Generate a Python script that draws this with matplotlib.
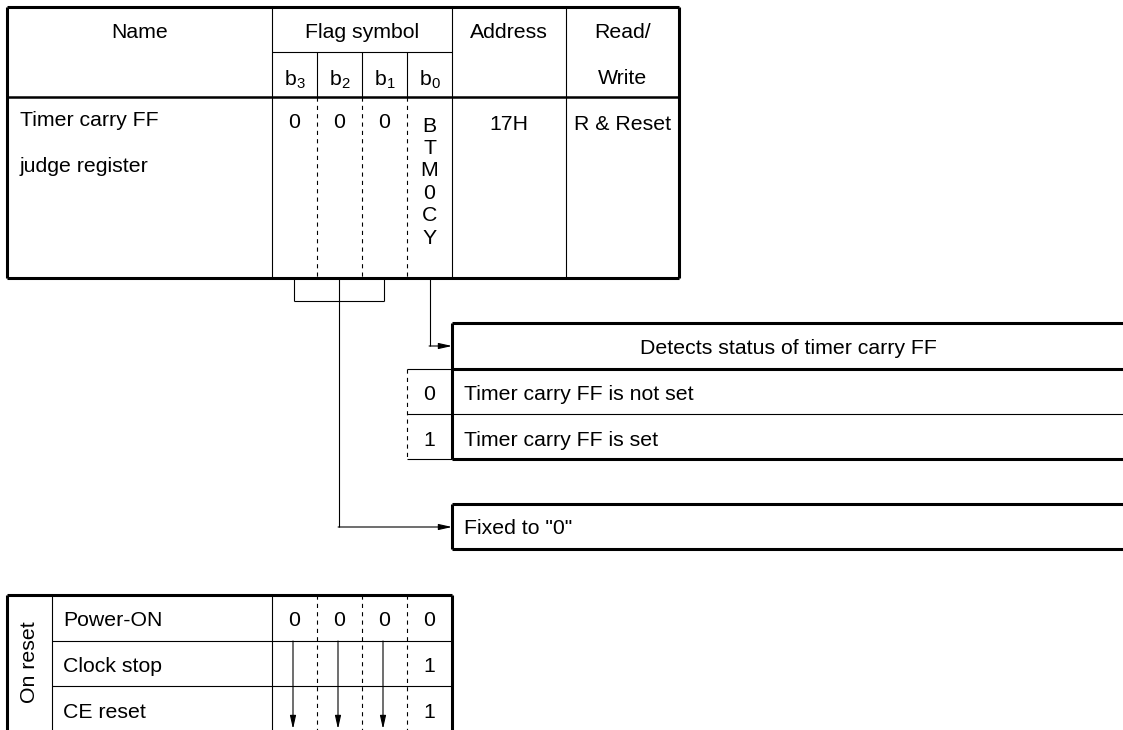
import matplotlib
matplotlib.use('Agg')
import matplotlib.pyplot as plt

plt.rcParams['font.family'] = ['Liberation Sans', 'DejaVu Sans']
plt.rcParams['mathtext.fontset'] = 'custom'
plt.rcParams['mathtext.rm'] = 'Liberation Sans'
plt.rcParams['lines.scale_dashes'] = False

# region - Data
header_cols = ['Name', 'Flag symbol', 'Address', 'Read/']
bit_names = ['3', '2', '1', '0']
reg_name = ['Timer carry FF', 'judge register']
reg_bits = ['0', '0', '0']
flag_symbol = 'BTM0CY'
reg_address = '17H'
reg_rw = 'R & Reset'
rw_second = 'Write'

detect_title = 'Detects status of timer carry FF'
detect_codes = ['0', '1']
detect_texts = ['Timer carry FF is not set', 'Timer carry FF is set']
fixed_text = 'Fixed to "0"'

reset_title = 'On reset'
reset_rows = ['Power-ON', 'Clock stop', 'CE reset']
reset_vals = [['0', '0', '0', '0'],
              ['', '', '', '1'],
              ['', '', '', '1']]
# endregion

# region - Layout (pixels)
W, H = 1123, 730
x_left, x_name, x_addr, x_rw, x_right = 7, 272, 452, 566, 679
bit_w = (x_addr - x_name) / 4.0
bit_x = [x_name + i * bit_w for i in range(5)]
bit_c = [x_name + (i + 0.5) * bit_w for i in range(4)]
y_top, y_sub, y_hdr, y_bot = 7, 52, 97, 278
box_x = x_addr
fs = 15.3
thick = 2.2
thin = 0.8
dash = (0, (3, 3))
# endregion

fig = plt.figure(figsize=(W / 100, H / 100), dpi=100)
ax = fig.add_axes([0, 0, 1, 1])
ax.set_xlim(0, W)
ax.set_ylim(H, 0)
ax.axis('off')


def hline(y, x0, x1, lw=thin, ls='-'):
    ax.plot([x0, x1], [y, y], color='black', lw=lw, ls=ls, solid_capstyle='butt')


def vline(x, y0, y1, lw=thin, ls='-'):
    ax.plot([x, x], [y0, y1], color='black', lw=lw, ls=ls, solid_capstyle='butt')


def txt(x, y, s, ha='center', **kw):
    ax.text(x, y, s, ha=ha, va='center_baseline', fontsize=fs, color='black', **kw)


def arrow(x0, y0, x1, y1):
    ax.annotate('', xy=(x1, y1), xytext=(x0, y0),
                arrowprops=dict(arrowstyle='-|>,head_length=0.8,head_width=0.18',
                                color='black', lw=thin, shrinkA=0, shrinkB=0))


# region - Register table
hline(y_top, x_left, x_right, thick)
hline(y_bot, x_left, x_right, thick)
vline(x_left, y_top, y_bot, thick)
vline(x_right, y_top, y_bot, thick)
hline(y_hdr, x_left, x_right, 1.8)
hline(y_sub, x_name, x_addr)
for xx in [x_name, x_addr, x_rw]:
    vline(xx, y_top, y_bot)
for xx in bit_x[1:4]:
    vline(xx, y_sub, y_hdr)
    vline(xx, y_hdr, y_bot, ls=dash)

hdr_x = [(x_left + x_name) / 2, (x_name + x_addr) / 2, (x_addr + x_rw) / 2, (x_rw + x_right) / 2]
for xx, s in zip(hdr_x, header_cols):
    txt(xx, 31, s)
txt(hdr_x[3], 77, rw_second)
for xx, b in zip(bit_c, bit_names):
    txt(xx, 77, r'$\mathrm{b}_{%s}$' % b)
for i, s in enumerate(reg_name):
    txt(20, 119 + i * 46, s, ha='left')
for xx, s in zip(bit_c[:3], reg_bits):
    txt(xx, 121, s)
for i, ch in enumerate(flag_symbol):
    txt(bit_c[3], 124 + i * 22.4, ch)
txt(hdr_x[2], 122, reg_address)
txt(hdr_x[3], 122, reg_rw)
# endregion

# region - Connectors
y_brk = 301
vline(bit_c[0] - 1, y_bot, y_brk)
vline(bit_c[2] - 1, y_bot, y_brk)
hline(y_brk, bit_c[0] - 1, bit_c[2] - 1)
vline(bit_c[1] - 1, y_bot, 527)
arrow(bit_c[1] - 1.4, 527, box_x, 527)
vline(bit_c[3], y_bot, 346)
arrow(bit_c[3] - 0.4, 346, box_x, 346)
# endregion

# region - Description boxes
d_top, d_hdr, d_mid, d_bot = 323, 369, 414, 459
for yy in [d_top, d_hdr, d_bot]:
    hline(yy, box_x, W, thick)
hline(d_mid, bit_x[3], W)
hline(d_hdr, bit_x[3], box_x)
hline(d_bot, bit_x[3], box_x)
vline(box_x, d_top, d_bot, thick)
vline(bit_x[3], d_hdr, d_bot, ls=dash)
txt((box_x + W) / 2 + 1, 347, detect_title)
for i in range(2):
    yy = 393 + i * 45
    txt(bit_c[3], yy, detect_codes[i])
    txt(464, yy, detect_texts[i], ha='left')

f_top, f_bot = 504, 549
hline(f_top, box_x, W, thick)
hline(f_bot, box_x, W, thick)
vline(box_x, f_top, f_bot, thick)
txt(464, 527, fixed_text, ha='left')
# endregion

# region - Reset table
r_top, r_col = 595, 52
r_rows = [r_top, 641, 686]
hline(r_top, x_left, x_addr, thick)
vline(x_left, r_top, H, thick)
vline(x_addr, r_top, H, thick)
vline(r_col, r_top, H)
vline(x_name, r_top, H)
for yy in r_rows[1:]:
    hline(yy, r_col, x_addr)
for xx in bit_x[1:4]:
    vline(xx, r_top, H, ls=dash)
ax.text((x_left + r_col) / 2, 662, reset_title, rotation=90, ha='center', va='center',
        fontsize=fs, color='black')
for i, s in enumerate(reset_rows):
    yy = 619 + i * 45.5
    txt(63, yy, s, ha='left')
    for xx, v in zip(bit_c, reset_vals[i]):
        if v:
            txt(xx, yy, v)
for xx in bit_c[:3]:
    arrow(xx - 1.5, r_rows[1], xx - 1.5, 729)
# endregion

fig.savefig('out.png', dpi=100)
